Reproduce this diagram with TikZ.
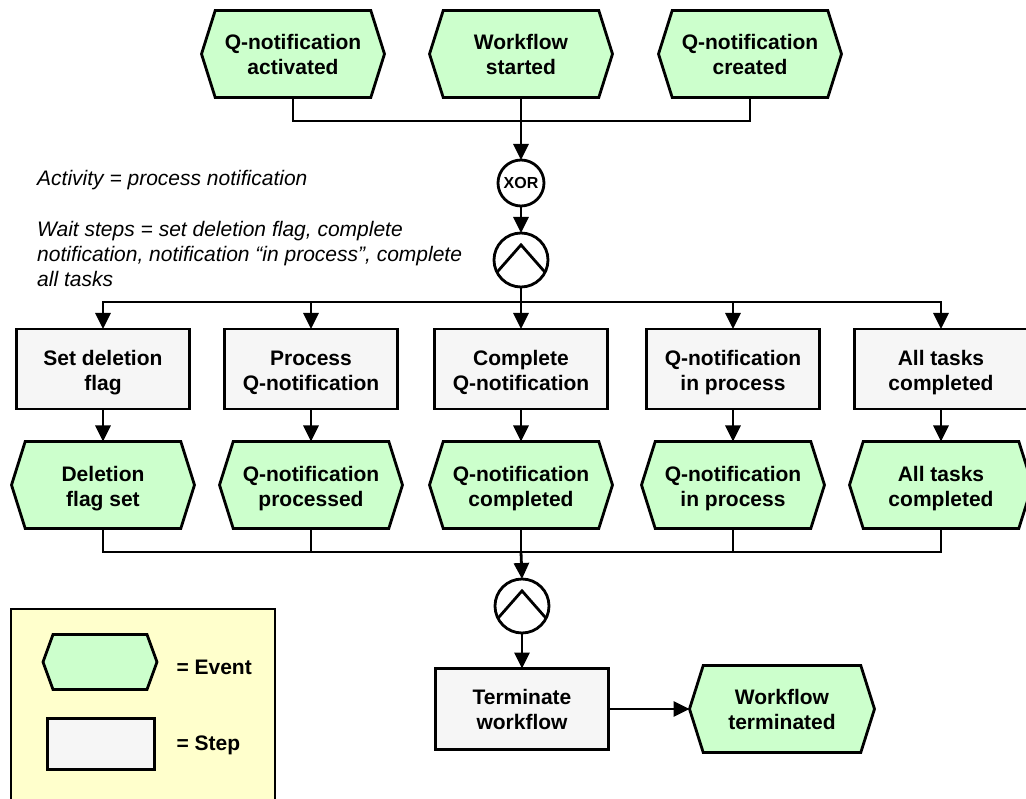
\documentclass[tikz,border=0pt]{standalone}
\usepackage{fontspec}
\setmainfont{Liberation Sans}
\usepackage{tikz}
\usetikzlibrary{shapes.symbols,arrows.meta,calc,positioning}
\definecolor{eventgreen}{HTML}{CCFFCC}
\definecolor{stepgray}{HTML}{F6F6F6}
\definecolor{legendyellow}{HTML}{FFFFCC}

\begin{document}
\begin{tikzpicture}[x=1pt,y=-1pt,
  every node/.style={font=\fontsize{21}{25}\selectfont\bfseries},
  event/.style={shape=signal, signal to=west and east, signal pointer angle=145, draw, line width=2.8pt, fill=eventgreen, minimum width=183pt, minimum height=87pt, align=center, inner sep=0pt, outer sep=0pt},
  stepbox/.style={rectangle, draw, line width=2.8pt, fill=stepgray, minimum width=173pt, minimum height=80pt, align=center, inner sep=0pt, outer sep=0pt},
  gate/.style={circle, draw, line width=2.8pt, fill=white, minimum size=54pt, inner sep=0pt, outer sep=0pt},
  note/.style={anchor=west, align=left, inner sep=0pt, font=\fontsize{21}{25}\selectfont\itshape},
  line/.style={line width=2.8pt},
  arr/.style={line width=2.8pt, -{Triangle[length=16pt,width=15pt]}}]

 \useasboundingbox (0,0) rectangle (1026,799);

 % legend
 \draw[line width=2.2pt, fill=legendyellow] (11,609) rectangle (275,812);
 \node[event, minimum width=114pt, minimum height=55pt, signal pointer angle=140] (legevent) at (100,662) {};
 \node[anchor=west] (legeventtxt) at (173,667) {= Event};
 \node[stepbox, minimum width=107pt, minimum height=51pt] (legstep) at (101,744) {};
 \node[anchor=west] (legsteptxt) at (173,745) {= Step};

 % start events
 \foreach \i/\x/\name in {1/293/{Q-notification\\activated},2/521/{Workflow\\started},3/750/{Q-notification\\created}}{
   \node[event] (t\i) at (\x,54) {\name};
 }
 \coordinate (jtop) at (521,121);
 \draw[line] (t1.south) |- (jtop) -| (t3.south);
 \draw[arr] (t2.south) -- (jtop) -- ++(0,39);

 % gates
 \node[gate, minimum size=46pt, font=\fontsize{16}{18}\selectfont\bfseries] (xor) at (521,183) {XOR};
 \node[gate] (and1) at (521,260) {};
 \draw[line] (and1.207) -- ($(and1.center)!0.56!(and1.north)$) -- (and1.333);
 \draw[arr] (xor) -- (and1);

 \node[note] (activity) at (37,180) {Activity = process notification};
 \node[note] (waitsteps) at (37,254) {Wait steps = set deletion flag, complete\\notification, notification “in process”, complete\\all tasks};

 % steps and their events
 \foreach \i/\x/\st/\ev in {1/103/{Set deletion\\flag}/{Deletion\\flag set},
                            2/311/{Process\\Q-notification}/{Q-notification\\processed},
                            3/521/{Complete\\Q-notification}/{Q-notification\\completed},
                            4/733/{Q-notification\\in process}/{Q-notification\\in process},
                            5/941/{All tasks\\completed}/{All tasks\\completed}}{
   \node[stepbox] (s\i) at (\x,369) {\\[-3pt]\st};
   \node[event] (e\i) at (\x,485) {\\[-2pt]\ev};
   \draw[arr] (s\i) -- (e\i);
 }

 \coordinate (jsplit) at (521,302);
 \draw[line] (and1.south) -- (jsplit);
 \foreach \i in {1,...,5}
   \draw[arr] (jsplit) -| (s\i.north);

 \coordinate (jmerge) at (521,552);
 \foreach \i in {1,...,5}
   \draw[line] (e\i.south) |- (jmerge);

 \node[gate] (and2) at (522,606) {};
 \draw[line] (and2.207) -- ($(and2.center)!0.56!(and2.north)$) -- (and2.333);
 \draw[arr] (jmerge) -- (and2.north);

 % end
 \node[stepbox, minimum height=81pt] (term) at (522,709) {Terminate\\workflow};
 \node[event, minimum width=185pt] (wfterm) at (782,709) {Workflow\\terminated};
 \draw[arr] (and2) -- (term);
 \draw[arr] (term) -- (wfterm);

\end{tikzpicture}
\end{document}
